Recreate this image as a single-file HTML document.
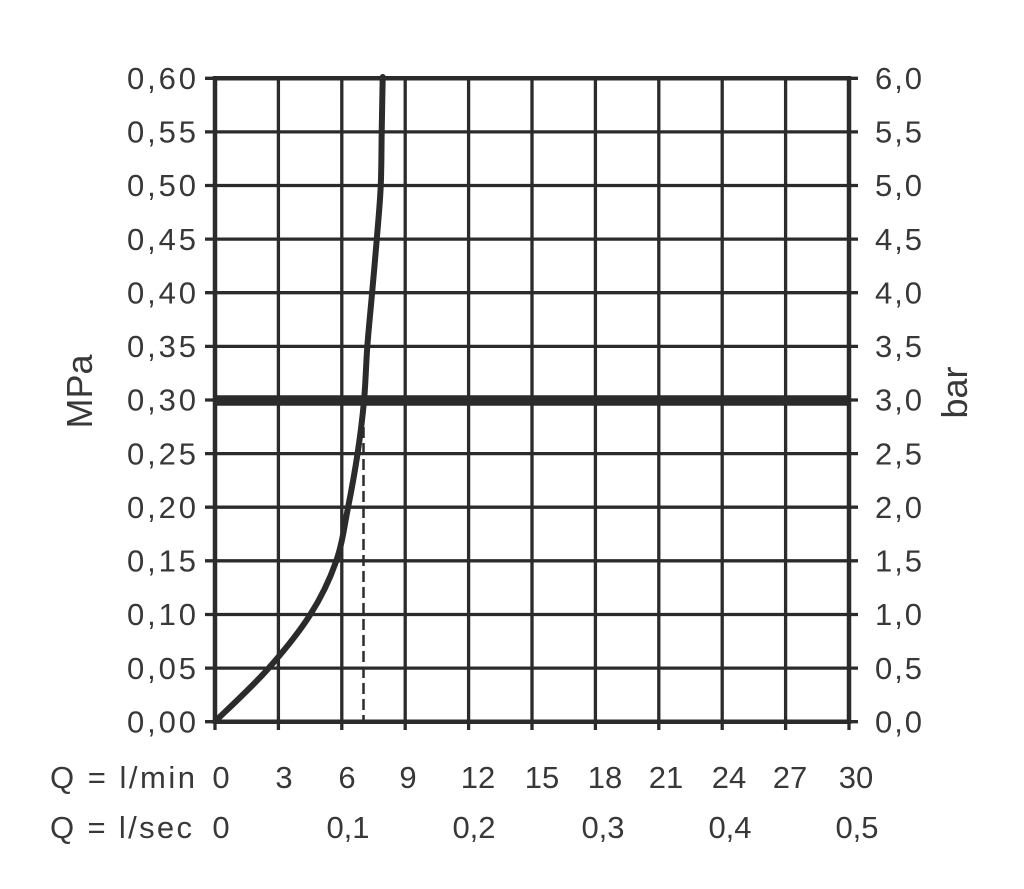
<!DOCTYPE html>
<html>
<head>
<meta charset="utf-8">
<style>
html,body{margin:0;padding:0;background:#fff;}
svg{display:block;}
text{font-family:"Liberation Sans",sans-serif;fill:#383838;}
</style>
</head>
<body>
<svg width="1024" height="889" viewBox="0 0 1024 889" xmlns="http://www.w3.org/2000/svg">
<rect width="1024" height="889" fill="#fff"/>
<g stroke="#2b2b2b" stroke-width="3.3" fill="none">
  <line x1="278.4" y1="78" x2="278.4" y2="730"/>
  <line x1="341.8" y1="78" x2="341.8" y2="730"/>
  <line x1="405.2" y1="78" x2="405.2" y2="730"/>
  <line x1="468.6" y1="78" x2="468.6" y2="730"/>
  <line x1="532" y1="78" x2="532" y2="730"/>
  <line x1="595.4" y1="78" x2="595.4" y2="730"/>
  <line x1="658.8" y1="78" x2="658.8" y2="730"/>
  <line x1="722.2" y1="78" x2="722.2" y2="730"/>
  <line x1="785.6" y1="78" x2="785.6" y2="730"/>
  <line x1="205" y1="668.1" x2="858" y2="668.1"/>
  <line x1="205" y1="614.5" x2="858" y2="614.5"/>
  <line x1="205" y1="560.8" x2="858" y2="560.8"/>
  <line x1="205" y1="507.2" x2="858" y2="507.2"/>
  <line x1="205" y1="453.6" x2="858" y2="453.6"/>
  <line x1="205" y1="400" x2="858" y2="400"/>
  <line x1="205" y1="346.4" x2="858" y2="346.4"/>
  <line x1="205" y1="292.7" x2="858" y2="292.7"/>
  <line x1="205" y1="239.1" x2="858" y2="239.1"/>
  <line x1="205" y1="185.5" x2="858" y2="185.5"/>
  <line x1="205" y1="131.9" x2="858" y2="131.9"/>
  <line x1="205" y1="78.3" x2="858" y2="78.3"/>
  <line x1="205" y1="721.7" x2="858" y2="721.7"/>
  <line x1="215" y1="721" x2="215" y2="730"/>
  <line x1="849" y1="721" x2="849" y2="730"/>
</g>
<g stroke="#2b2b2b" stroke-width="4.5" fill="none">
  <line x1="215" y1="76" x2="215" y2="724"/>
  <line x1="849" y1="76" x2="849" y2="724"/>
  <line x1="213" y1="721.7" x2="851" y2="721.7"/>
  <line x1="213" y1="78.3" x2="851" y2="78.3"/>
</g>
<line x1="215" y1="400.5" x2="850" y2="400.5" stroke="#2b2b2b" stroke-width="10.5"/>
<line x1="363.5" y1="427" x2="363.5" y2="721" stroke="#2b2b2b" stroke-width="2.5" stroke-dasharray="11 5"/>
<path d="M215,721.5 C223.7,712.9 251.2,687.75 267,670 C282.8,652.25 298.5,633.05 310,615 C321.5,596.95 329.67,579.58 336,561.7 C342.33,543.82 344.42,525.65 348,507.7 C351.58,489.75 354.83,471.78 357.5,454 C360.17,436.22 362.37,418.88 364,401 C365.63,383.12 365.97,364.53 367.3,346.7 C368.63,328.87 370.43,311.78 372,294 C373.57,276.22 375.25,257.88 376.7,240 C378.15,222.12 379.87,204.75 380.7,186.7 C381.53,168.65 381.37,149.98 381.7,131.7 C382.03,113.42 382.53,86.1 382.7,77" fill="none" stroke="#2b2b2b" stroke-width="6" stroke-linecap="round" stroke-linejoin="round"/>

<g font-size="31">
  <text x="127" y="89" textLength="69" lengthAdjust="spacing">0,60</text>
  <text x="127" y="142.6" textLength="69" lengthAdjust="spacing">0,55</text>
  <text x="127" y="196.2" textLength="69" lengthAdjust="spacing">0,50</text>
  <text x="127" y="249.8" textLength="69" lengthAdjust="spacing">0,45</text>
  <text x="127" y="303.4" textLength="69" lengthAdjust="spacing">0,40</text>
  <text x="127" y="357.1" textLength="69" lengthAdjust="spacing">0,35</text>
  <text x="127" y="410.7" textLength="69" lengthAdjust="spacing">0,30</text>
  <text x="127" y="464.3" textLength="69" lengthAdjust="spacing">0,25</text>
  <text x="127" y="517.9" textLength="69" lengthAdjust="spacing">0,20</text>
  <text x="127" y="571.5" textLength="69" lengthAdjust="spacing">0,15</text>
  <text x="127" y="625.2" textLength="69" lengthAdjust="spacing">0,10</text>
  <text x="127" y="678.8" textLength="69" lengthAdjust="spacing">0,05</text>
  <text x="127" y="732.4" textLength="69" lengthAdjust="spacing">0,00</text>
</g>
<g font-size="31">
  <text x="875" y="89" textLength="47" lengthAdjust="spacing">6,0</text>
  <text x="875" y="142.6" textLength="47" lengthAdjust="spacing">5,5</text>
  <text x="875" y="196.2" textLength="47" lengthAdjust="spacing">5,0</text>
  <text x="875" y="249.8" textLength="47" lengthAdjust="spacing">4,5</text>
  <text x="875" y="303.4" textLength="47" lengthAdjust="spacing">4,0</text>
  <text x="875" y="357.1" textLength="47" lengthAdjust="spacing">3,5</text>
  <text x="875" y="410.7" textLength="47" lengthAdjust="spacing">3,0</text>
  <text x="875" y="464.3" textLength="47" lengthAdjust="spacing">2,5</text>
  <text x="875" y="517.9" textLength="47" lengthAdjust="spacing">2,0</text>
  <text x="875" y="571.5" textLength="47" lengthAdjust="spacing">1,5</text>
  <text x="875" y="625.2" textLength="47" lengthAdjust="spacing">1,0</text>
  <text x="875" y="678.8" textLength="47" lengthAdjust="spacing">0,5</text>
  <text x="875" y="732.4" textLength="47" lengthAdjust="spacing">0,0</text>
</g>
<text font-size="36" text-anchor="middle" transform="translate(92,391.5) rotate(-90)">MPa</text>
<text font-size="36" text-anchor="middle" transform="translate(967,392.5) rotate(-90)">bar</text>

<g font-size="31">
  <text x="50" y="788" textLength="145" lengthAdjust="spacing">Q = l/min</text>
  <text x="50" y="838" textLength="142" lengthAdjust="spacing">Q = l/sec</text>
</g>
<g font-size="31" text-anchor="middle">
  <text x="221" y="788">0</text>
  <text x="284" y="788">3</text>
  <text x="347" y="788">6</text>
  <text x="408" y="788">9</text>
  <text x="478" y="788">12</text>
  <text x="542" y="788">15</text>
  <text x="605" y="788">18</text>
  <text x="666" y="788">21</text>
  <text x="729" y="788">24</text>
  <text x="790" y="788">27</text>
  <text x="856" y="788">30</text>

  <text x="221" y="838">0</text>
  <text x="348" y="838">0,1</text>
  <text x="474" y="838">0,2</text>
  <text x="603" y="838">0,3</text>
  <text x="730" y="838">0,4</text>
  <text x="857" y="838">0,5</text>
</g>
</svg>
</body>
</html>
